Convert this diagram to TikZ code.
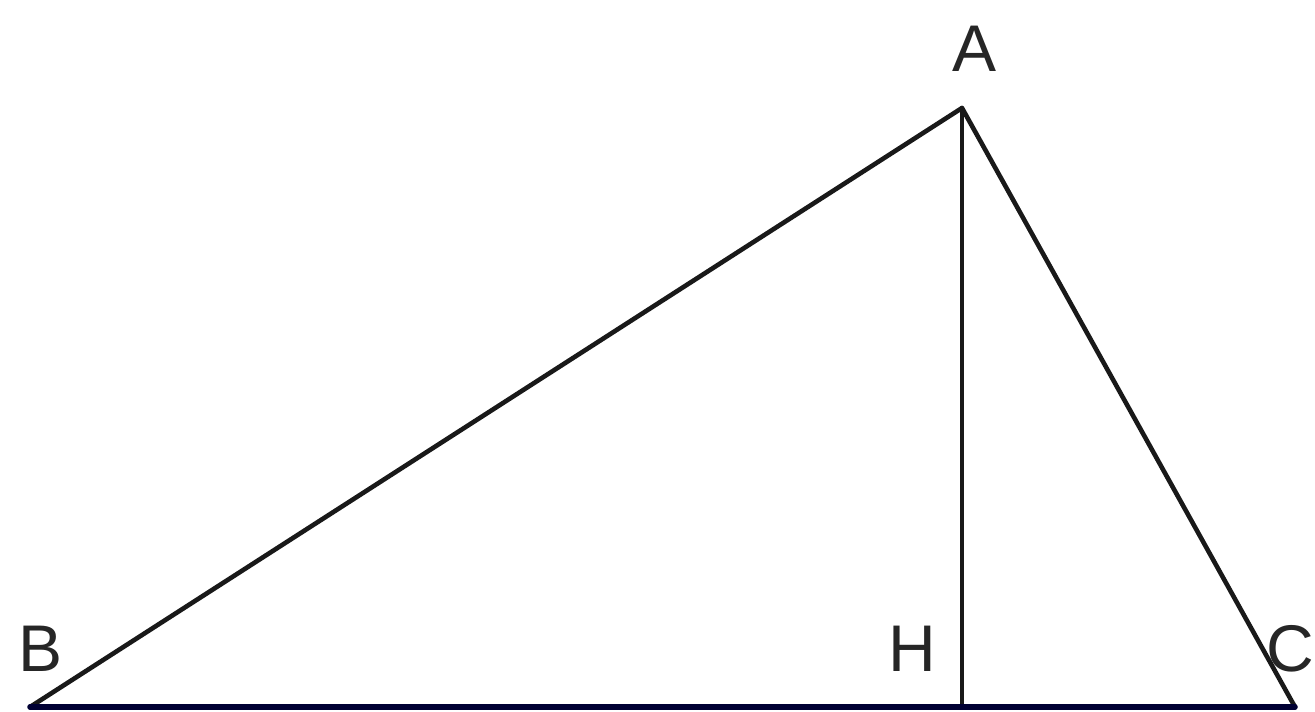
\documentclass[tikz,border=0pt]{standalone}
\usepackage{fontspec}
\setmainfont{Liberation Sans}
\begin{document}
\begin{tikzpicture}[x=1pt,y=-1pt,
  edge/.style={line width=4.6pt,draw=black!90,line cap=round,line join=round},
  lbl/.style={font=\fontsize{66}{70}\selectfont,inner sep=0pt,text=black!85}]
\useasboundingbox (0,0) rectangle (1315,712);
\coordinate (A) at (962,108);
\coordinate (B) at (30,707);
\coordinate (C) at (1295,707);
\coordinate (H) at (962,707);
\draw[edge] (B) -- (A) -- (C);
\draw[edge] (A) -- (H);
\draw[line width=5.5pt,draw=black!80!blue,line cap=round] (B) -- (C);
\node[lbl] (la) at (975,49) {A};
\node[lbl] (lb) at (41,649) {B};
\node[lbl] (lh) at (912,649) {H};
\node[lbl,anchor=east] (lc) at (1314.5,649) {C};
\end{tikzpicture}
\end{document}
